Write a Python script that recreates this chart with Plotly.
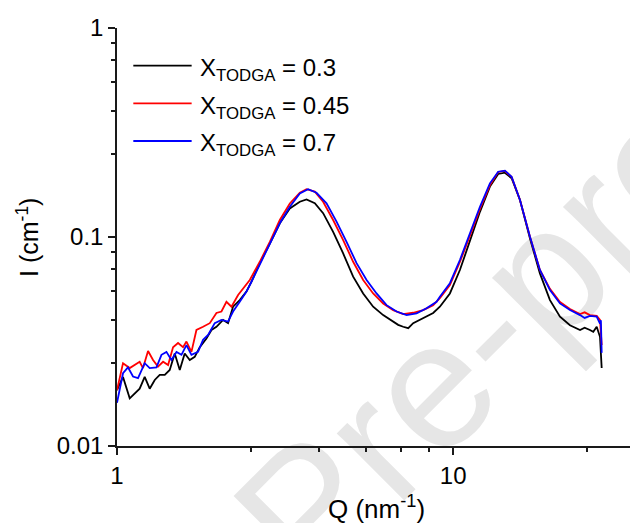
import plotly.graph_objects as go

# ---------------- data ----------------
q_03 = [1.00, 1.042, 1.091, 1.129, 1.168, 1.209, 1.251, 1.295, 1.340, 1.387, 1.435, 1.485,
        1.537, 1.590, 1.646, 1.703, 1.763, 1.845, 1.910, 1.976, 2.068, 2.140, 2.214, 2.318,
        2.427, 2.512, 2.659, 2.848, 3.050, 3.266, 3.498, 3.662, 3.876, 4.103, 4.394, 4.707,
        5.040, 5.397, 5.780, 6.190, 6.629, 6.860, 7.099, 7.350, 7.603, 8.141, 8.719, 9.127,
        9.777, 10.47, 11.21, 12.01, 12.86, 13.61, 14.25, 14.92, 15.80, 16.92, 18.11, 19.40,
        20.78, 22.25, 23.84, 24.60, 25.51, 26.10, 26.72, 27.33, 27.65]
i_03 = [0.0185, 0.0214, 0.0169, 0.0178, 0.0188, 0.0214, 0.0188, 0.0207, 0.0219, 0.0219, 0.0231, 0.0277,
        0.0231, 0.0277, 0.0258, 0.0267, 0.0297, 0.0327, 0.0359, 0.0372, 0.0401, 0.0387, 0.0464, 0.0499,
        0.0548, 0.0611, 0.0750, 0.0930, 0.1163, 0.1370, 0.1475, 0.1514, 0.1450, 0.1300, 0.1058, 0.0834,
        0.0646, 0.0537, 0.0464, 0.0423, 0.0394, 0.0380, 0.0372, 0.0366, 0.0387, 0.0409, 0.0433, 0.0464,
        0.0537, 0.0695, 0.0967, 0.1320, 0.1742, 0.2002, 0.2031, 0.1910, 0.1503, 0.0983, 0.0670, 0.0499,
        0.0416, 0.0378, 0.0359, 0.0368, 0.0359, 0.0352, 0.0372, 0.0333, 0.0236]

q_045 = [1.00, 1.042, 1.091, 1.129, 1.168, 1.195, 1.237, 1.280, 1.324, 1.371, 1.419, 1.468,
         1.519, 1.572, 1.609, 1.665, 1.723, 1.803, 1.888, 1.976, 2.045, 2.116, 2.190, 2.292,
         2.399, 2.483, 2.659, 2.848, 3.050, 3.266, 3.498, 3.662, 3.876, 4.103, 4.394, 4.707,
         5.040, 5.397, 5.780, 6.190, 6.629, 7.099, 7.603, 8.141, 8.719, 9.127, 9.777, 10.47,
         11.21, 12.01, 12.86, 13.61, 14.25, 14.92, 15.80, 16.92, 18.11, 19.40, 20.78, 22.25,
         23.84, 24.60, 25.51, 26.72, 27.33, 27.65]
i_045 = [0.0185, 0.0249, 0.0236, 0.0244, 0.0253, 0.0236, 0.0285, 0.0258, 0.0240, 0.0253, 0.0244, 0.0297,
         0.0311, 0.0297, 0.0316, 0.0282, 0.0359, 0.0372, 0.0387, 0.0433, 0.0440, 0.0490, 0.0464, 0.0528,
         0.0579, 0.0623, 0.0761, 0.0948, 0.1206, 0.1447, 0.1628, 0.1692, 0.1648, 0.1475, 0.1206, 0.0967,
         0.0761, 0.0623, 0.0537, 0.0481, 0.0447, 0.0428, 0.0434, 0.0447, 0.0472, 0.0510, 0.0589, 0.0759,
         0.1011, 0.1361, 0.1771, 0.2047, 0.2070, 0.1938, 0.1503, 0.1002, 0.0695, 0.0565, 0.0489, 0.0452,
         0.0428, 0.0436, 0.0423, 0.0419, 0.0401, 0.0304]

q_07 = [1.00, 1.042, 1.078, 1.116, 1.155, 1.209, 1.251, 1.310, 1.356, 1.403, 1.452, 1.503,
        1.555, 1.609, 1.665, 1.742, 1.803, 1.866, 1.953, 2.045, 2.140, 2.214, 2.318, 2.427,
        2.512, 2.659, 2.848, 3.050, 3.266, 3.498, 3.702, 3.921, 4.200, 4.498, 4.817, 5.159,
        5.526, 5.916, 6.337, 6.785, 7.267, 7.783, 8.332, 8.924, 9.127, 9.777, 10.47, 11.21,
        12.01, 12.86, 13.61, 14.25, 14.92, 15.80, 16.92, 18.11, 19.40, 20.78, 22.25, 23.84,
        24.60, 25.51, 26.72, 27.33, 27.50, 27.65]
i_07 = [0.0161, 0.0223, 0.0238, 0.0215, 0.0211, 0.0249, 0.0236, 0.0238, 0.0273, 0.0282, 0.0258, 0.0282,
        0.0273, 0.0304, 0.0273, 0.0282, 0.0322, 0.0340, 0.0387, 0.0401, 0.0394, 0.0440, 0.0490, 0.0548,
        0.0611, 0.0734, 0.0916, 0.1163, 0.1395, 0.1617, 0.1692, 0.1628, 0.1450, 0.1184, 0.0948, 0.0750,
        0.0623, 0.0537, 0.0472, 0.0440, 0.0423, 0.0431, 0.0456, 0.0490, 0.0518, 0.0601, 0.0776, 0.1041,
        0.1395, 0.1806, 0.2053, 0.2076, 0.1943, 0.1503, 0.1002, 0.0695, 0.0558, 0.0481, 0.0447, 0.0423,
        0.0410, 0.0419, 0.0416, 0.0385, 0.0400, 0.0279]

series_names = ["X<sub>TODGA</sub> = 0.3", "X<sub>TODGA</sub> = 0.45", "X<sub>TODGA</sub> = 0.7"]
series_colors = ["#000000", "#ff0000", "#0000ff"]

x_major = [1, 10]
x_major_text = ["1", "10"]
x_minor = [2.5, 4, 5.5, 7, 8.5, 25]
y_major = [0.01, 0.1, 1]
y_major_text = ["0.01", "0.1", "1"]
y_minor = [0.025, 0.04, 0.055, 0.07, 0.085, 0.25, 0.4, 0.55, 0.7, 0.85]

# ---------------- figure ----------------
FONT = "Liberation Sans, Arial, sans-serif"
AX = "#1a1a1a"
fig = go.Figure()
for q, i, c, n in zip([q_03, q_045, q_07], [i_03, i_045, i_07], series_colors, series_names):
    fig.add_trace(go.Scatter(x=q, y=i, mode="lines", name=n,
                             line=dict(color=c, width=1.8), showlegend=False))

xr = [0, 1.5259]
fig.update_layout(
    width=630, height=523,
    margin=dict(l=117, r=0, t=28, b=77),
    paper_bgcolor="white", plot_bgcolor="rgba(0,0,0,0)",
    font=dict(family=FONT, color="black"),
    xaxis=dict(type="log", range=xr, showgrid=False, zeroline=False,
               showline=True, linecolor=AX, linewidth=1.5,
               ticks="outside", ticklen=7, tickwidth=1.5, tickcolor=AX,
               tickmode="array", tickvals=x_major, ticktext=x_major_text,
               tickfont=dict(size=24, family=FONT),
               minor=dict(tickmode="array", tickvals=x_minor, ticks="outside",
                          ticklen=4, tickwidth=1.5, tickcolor=AX, showgrid=False)),
    xaxis2=dict(type="log", range=xr, overlaying="x", side="top", anchor="y",
                showgrid=False, zeroline=False, showline=True, linecolor=AX, linewidth=1.5,
                ticks="inside", ticklen=7, tickwidth=1.5, tickcolor=AX,
                tickmode="array", tickvals=x_major, showticklabels=False,
                minor=dict(tickmode="array", tickvals=x_minor, ticks="inside",
                           ticklen=4, tickwidth=1.5, tickcolor=AX, showgrid=False)),
    yaxis=dict(type="log", range=[-2, 0], showgrid=False, zeroline=False,
               showline=True, linecolor=AX, linewidth=1.5,
               ticks="outside", ticklen=7, tickwidth=1.5, tickcolor=AX,
               tickmode="array", tickvals=y_major, ticktext=y_major_text,
               tickfont=dict(size=24, family=FONT),
               minor=dict(tickmode="array", tickvals=y_minor, ticks="outside",
                          ticklen=4, tickwidth=1.5, tickcolor=AX, showgrid=False)),
)

# watermark (behind everything)
fig.add_shape(type="rect", xref="paper", yref="paper", layer="below",
              x0=0.68, x1=0.89, y0=0.31, y1=0.52,
              line=dict(width=0, color="rgba(0,0,0,0)"), fillcolor="rgba(0,0,0,0)",
              label=dict(text="Pre-proof", textangle=-45, textposition="middle center",
                         font=dict(size=180, color="#e6e6e6", family=FONT)))

# axis titles
fig.add_annotation(text="I (cm<sup>-1</sup>)", xref="paper", yref="paper",
                   x=-0.1735, y=0.5, textangle=-90, showarrow=False,
                   xanchor="center", yanchor="middle", font=dict(size=25, family=FONT))
fig.add_annotation(text="Q (nm<sup>-1</sup>)", xref="paper", yref="paper",
                   x=0.506, y=-0.146, showarrow=False,
                   xanchor="center", yanchor="middle", font=dict(size=26, family=FONT))

# legend drawn as line samples + labels
leg_y = [0.9098, 0.8199, 0.7297]
for ly, c, n in zip(leg_y, series_colors, series_names):
    fig.add_shape(type="line", xref="paper", yref="paper", x0=0.0318, x1=0.1455,
                  y0=ly, y1=ly, line=dict(color=c, width=1.8))
    fig.add_annotation(text=n, xref="paper", yref="paper", x=0.1588, y=ly,
                       xanchor="left", yanchor="middle", showarrow=False, yshift=-4,
                       font=dict(size=24, family=FONT))

fig.write_html("out.html")
